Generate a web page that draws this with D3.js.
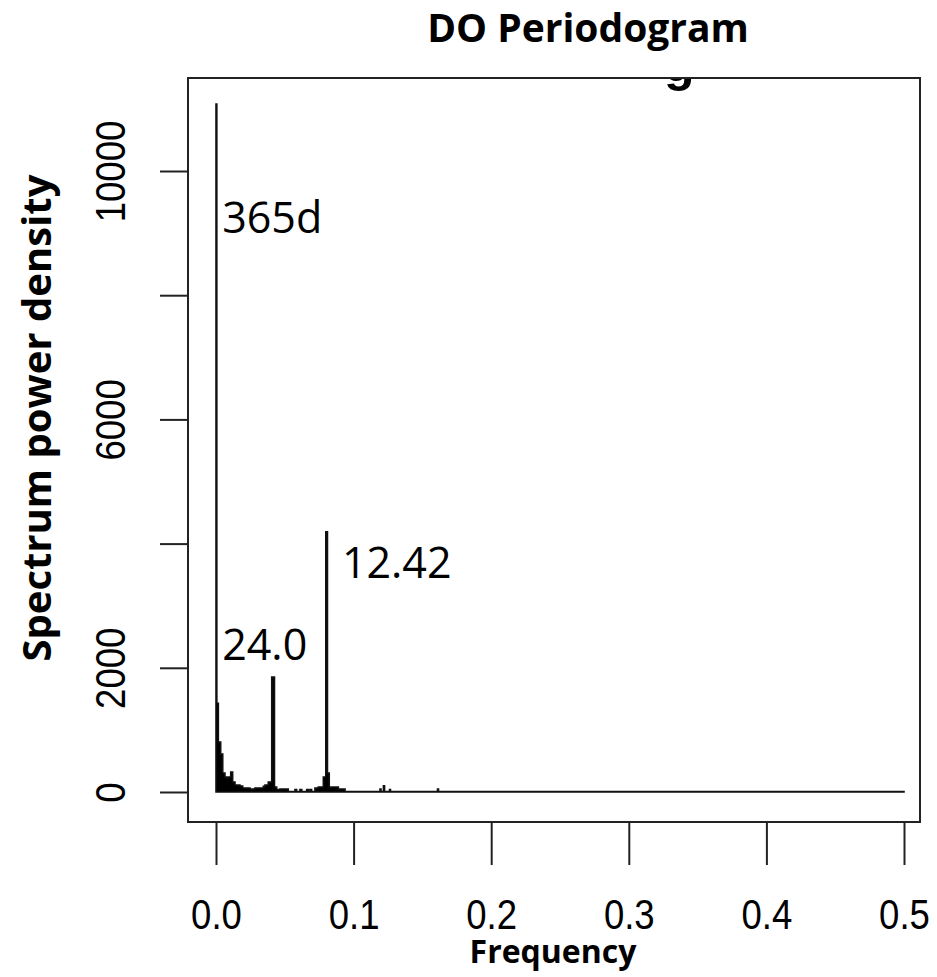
<!DOCTYPE html>
<meta charset="utf-8">
<style>
  body { margin: 0; background: #fff; }
  .tick text { font-family: "Liberation Sans", Arial, sans-serif; }
  .lbl { font-family: "Open Sans", "Noto Sans", sans-serif; }
</style>
<svg width="937" height="977"></svg>
<script src="https://d3js.org/d3.v7.min.js"></script>
<script>
  // periodogram: step start frequency and power
  var freq = [0.0000, 0.0006, 0.0017, 0.0034, 0.0049, 0.0065, 0.0078, 0.0089,
    0.0107, 0.0121, 0.0138, 0.0174, 0.0194, 0.0247, 0.0283, 0.0344, 0.0356,
    0.0380, 0.0405, 0.0425, 0.0441, 0.0465, 0.0525, 0.0574, 0.0586, 0.0610,
    0.0623, 0.0659, 0.0671, 0.0683, 0.0695, 0.0719, 0.0743, 0.0780, 0.0798,
    0.0810, 0.0823, 0.0841, 0.0889, 0.0938, 0.1192, 0.1199, 0.1217, 0.1225,
    0.1261, 0.1268, 0.1610, 0.1617, 0.5000];
  var power = [11080, 1430, 805, 612, 306, 241, 225, 241,
    322, 161, 113, 97, 64, 48, 64, 90, 113,
    161, 1850, 80, 40, 48, 8, 40, 8, 40,
    8, 40, 8, 40, 8, 64, 80, 241, 4190,
    306, 80, 80, 48, 8, 48, 8, 98, 8,
    40, 8, 48, 8, 8];

  var xTicks = [0, 0.1, 0.2, 0.3, 0.4, 0.5];
  var yTicks = [0, 2000, 4000, 6000, 8000, 10000];
  var yLabels = [0, 2000, 6000, 10000];

  var peaks = [
    { text: "365d", f: 0.0045, p: 9000 },
    { text: "24.0", f: 0.0045, p: 2125 },
    { text: "12.42", f: 0.0915, p: 3445 }
  ];

  var svg = d3.select("svg");
  var box = { left: 188, top: 78, right: 920, bottom: 822 };

  var x = d3.scaleLinear().domain([0, 0.5]).range([216, 904]);
  var y = d3.scaleLinear().domain([0, 10000]).range([792, 171]);

  var data = freq.map(function (f, i) { return { f: f, p: power[i] }; });

  // cut-off remnant of the original title
  svg.append("defs").append("clipPath").attr("id", "clipTop")
    .append("rect").attr("x", 0).attr("y", box.top + 1).attr("width", 937).attr("height", 40);
  svg.append("text")
    .attr("clip-path", "url(#clipTop)")
    .attr("x", 664).attr("y", 81)
    .style("font-family", "Liberation Sans, Arial, sans-serif")
    .style("font-weight", "bold")
    .style("font-size", "50px")
    .text("g");

  // spectrum
  var area = d3.area()
    .curve(d3.curveStepAfter)
    .x(function (d) { return x(d.f); })
    .y0(y(0))
    .y1(function (d) { return y(d.p); });

  svg.append("path")
    .datum(data)
    .attr("d", area)
    .attr("fill", "#000")
    .attr("stroke", "#111")
    .attr("stroke-width", 1.6);

  // frame
  svg.append("rect")
    .attr("x", box.left).attr("y", box.top)
    .attr("width", box.right - box.left).attr("height", box.bottom - box.top)
    .attr("fill", "none").attr("stroke", "#222").attr("stroke-width", 2);

  // x axis
  var gx = svg.append("g")
    .attr("transform", "translate(0," + box.bottom + ")")
    .call(d3.axisBottom(x).tickValues(xTicks).tickSize(43).tickSizeOuter(0)
      .tickPadding(34).tickFormat(d3.format(".1f")));
  gx.select(".domain").remove();
  gx.selectAll(".tick line").attr("stroke", "#222").attr("stroke-width", 2);
  gx.selectAll(".tick text")
    .attr("fill", "#000")
    .style("font-size", "42px")
    .attr("transform", "scale(0.87,1)");

  // y axis
  var gy = svg.append("g")
    .attr("transform", "translate(" + box.left + ",0)")
    .call(d3.axisLeft(y).tickValues(yTicks).tickSize(28).tickSizeOuter(0)
      .tickFormat(function (d) { return yLabels.indexOf(d) >= 0 ? d : ""; }));
  gy.select(".domain").remove();
  gy.selectAll(".tick line").attr("stroke", "#222").attr("stroke-width", 2);
  gy.selectAll(".tick text")
    .attr("fill", "#000")
    .style("font-size", "42px")
    .attr("x", null).attr("dy", null)
    .attr("text-anchor", "middle")
    .attr("transform", "translate(-63,0) rotate(-90) scale(0.87,1)");

  // titles
  svg.append("text").attr("class", "lbl")
    .attr("x", 588).attr("y", 42)
    .attr("text-anchor", "middle")
    .style("font-weight", "bold").style("font-size", "39px")
    .text("DO Periodogram");

  svg.append("text").attr("class", "lbl")
    .attr("x", 553).attr("y", 963)
    .attr("text-anchor", "middle")
    .style("font-weight", "bold").style("font-size", "32px")
    .text("Frequency");

  svg.append("text").attr("class", "lbl")
    .attr("transform", "translate(51,418) rotate(-90)")
    .attr("text-anchor", "middle")
    .style("font-weight", "bold").style("font-size", "40px")
    .text("Spectrum power density");

  // peak annotations
  svg.selectAll(".peak")
    .data(peaks)
    .enter().append("text")
    .attr("class", "lbl peak")
    .attr("x", function (d) { return x(d.f); })
    .attr("y", function (d) { return y(d.p); })
    .style("font-size", "43px")
    .text(function (d) { return d.text; });
</script>
